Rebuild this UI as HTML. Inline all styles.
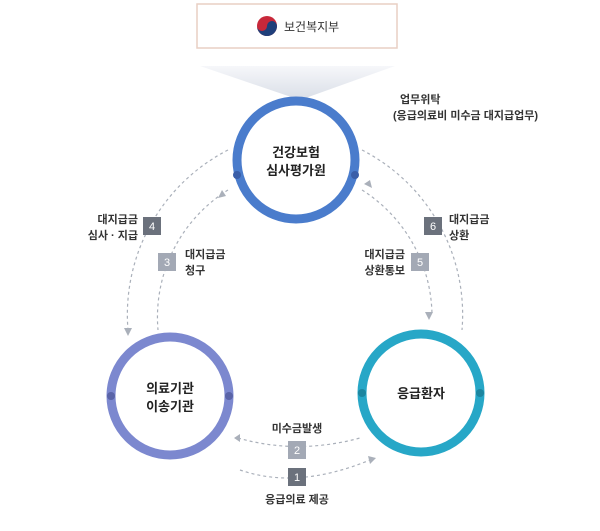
<!DOCTYPE html><html><head><meta charset="utf-8"><style>
body{margin:0;width:600px;height:526px;background:#fff;overflow:hidden;font-family:"Liberation Sans","Noto Sans CJK KR",sans-serif;}
</style></head><body>
<svg width="600" height="526" viewBox="0 0 600 526" xmlns="http://www.w3.org/2000/svg" font-family="Liberation Sans, Noto Sans CJK KR, sans-serif">
<defs>
<linearGradient id="g" x1="0" y1="0" x2="0" y2="1"><stop offset="0" stop-color="#f6f7fa"/><stop offset="1" stop-color="#d9dee7"/></linearGradient>
</defs>
<rect x="197" y="4" width="200" height="44" fill="#fff" stroke="#e8cfc4" stroke-width="1.5"/>
<circle cx="267" cy="26" r="10" fill="#c8283a"/>
<path d="M257 26 a10 10 0 0 0 20 0 a5 5 0 0 0 -10 0 a5 5 0 0 1 -10 0z" fill="#1f3f7a"/>
<text x="284" y="31" font-size="12" fill="#333">보건복지부</text>
<polygon points="200,66 395,66 300,100" fill="url(#g)"/>
<g font-size="11" fill="#333" font-weight="bold">
<text x="400" y="103">업무위탁</text>
<text x="393" y="119">(응급의료비 미수금 대지급업무)</text>
</g>
<g fill="none" stroke="#aab0ba" stroke-width="1.2" stroke-dasharray="3,3">
<path d="M228 150 A185 185 0 0 0 128 330"/>
<path d="M362 150 A185 185 0 0 1 462 330"/>
<path d="M228 190 A150 150 0 0 0 158 330"/>
<path d="M362 190 A150 150 0 0 1 432 315"/>
<path d="M238 438 Q297 455 360 438"/>
<path d="M240 470 Q297 490 370 460"/>
</g>
<g fill="#aab0ba">
<polygon points="124,328 132,328 128,336"/>
<polygon points="425,312 433,312 429,320"/>
<polygon points="218,198 226,196 222,190"/>
<polygon points="364,184 370,180 372,188"/>
<polygon points="240,434 240,442 234,438"/>
<polygon points="368,456 370,464 376,458"/>
</g>
<circle cx="296" cy="160" r="59" fill="#fff" stroke="#4a7ccc" stroke-width="9"/>
<circle cx="170" cy="396" r="59" fill="#fff" stroke="#7c88cf" stroke-width="9"/>
<circle cx="421" cy="393" r="59" fill="#fff" stroke="#27a7c7" stroke-width="9"/>
<circle cx="237" cy="175" r="4" fill="#3a5ea8"/><circle cx="355" cy="175" r="4" fill="#3a5ea8"/>
<circle cx="111" cy="396" r="4" fill="#5a64a8"/><circle cx="229" cy="396" r="4" fill="#5a64a8"/>
<circle cx="362" cy="393" r="4" fill="#1c86a0"/><circle cx="480" cy="393" r="4" fill="#1c86a0"/>
<g font-size="13" fill="#222" text-anchor="middle" font-weight="bold">
<text x="296" y="157">건강보험</text><text x="296" y="175">심사평가원</text>
<text x="170" y="393">의료기관</text><text x="170" y="411">이송기관</text>
<text x="421" y="398">응급환자</text>
</g>
<g font-size="11" fill="#fff" text-anchor="middle">
<rect x="143" y="217" width="18" height="18" fill="#6b717c"/><text x="152" y="230">4</text>
<rect x="158" y="253" width="18" height="18" fill="#a3a9b5"/><text x="167" y="266">3</text>
<rect x="424" y="217" width="18" height="18" fill="#6b717c"/><text x="433" y="230">6</text>
<rect x="411" y="253" width="18" height="18" fill="#a3a9b5"/><text x="420" y="266">5</text>
<rect x="288" y="441" width="18" height="18" fill="#a3a9b5"/><text x="297" y="454">2</text>
<rect x="288" y="468" width="18" height="18" fill="#6b717c"/><text x="297" y="481">1</text>
</g>
<g font-size="11" fill="#333" font-weight="bold">
<text x="138" y="223" text-anchor="end">대지급금</text><text x="138" y="239" text-anchor="end">심사 · 지급</text>
<text x="185" y="258">대지급금</text><text x="185" y="274">청구</text>
<text x="449" y="223">대지급금</text><text x="449" y="239">상환</text>
<text x="405" y="258" text-anchor="end">대지급금</text><text x="405" y="274" text-anchor="end">상환통보</text>
<text x="297" y="432" text-anchor="middle">미수금발생</text>
<text x="297" y="503" text-anchor="middle">응급의료 제공</text>
</g>
</svg>
</body></html>
